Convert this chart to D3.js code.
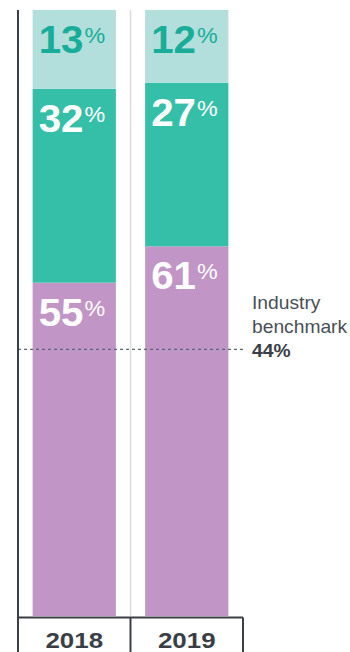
<!DOCTYPE html>
<html>
<head>
<meta charset="utf-8">
<script src="https://cdn.jsdelivr.net/npm/d3@7"></script>
<style>
  html, body { margin: 0; padding: 0; background: #fff; }
  svg { display: block; }
  text { font-family: "Liberation Sans", Arial, Helvetica, sans-serif; }
</style>
</head>
<body>
<svg id="chart" width="350" height="652"></svg>
<script>
// Share of responses per year, stacked bottom to top
const years = ["2018", "2019"];
const bottomShare = [55, 61];
const middleShare = [32, 27];
const topShare = [13, 12];
const benchmark = 44;
const benchmarkLabel = ["Industry", "benchmark"];

const seriesNames = ["bottom", "middle", "top"];
const seriesValues = [bottomShare, middleShare, topShare];
const fills = { bottom: "#c195c5", middle: "#36bfa8", top: "#b2dfdb" };
const labelFills = { bottom: "#ffffff", middle: "#ffffff", top: "#17ad99" };
const ink = "#3a3f47";

const rows = years.map((y, i) => {
  const r = { year: y };
  seriesNames.forEach((s, k) => r[s] = seriesValues[k][i]);
  return r;
});

const svg = d3.select("#chart");
const axisLeft = 18, axisRight = 243, plotTop = 10, plotBottom = 616;

const x = d3.scaleBand().domain(years).range([axisLeft, axisRight]).paddingInner(0).paddingOuter(0);
const y = d3.scaleLinear().domain([0, 100]).range([plotBottom, plotTop]);
const barW = x.bandwidth() * 0.74;

const stack = d3.stack().keys(seriesNames)(rows);

// light divider between the two columns
svg.append("line")
  .attr("x1", x("2019")).attr("x2", x("2019"))
  .attr("y1", plotTop).attr("y2", plotBottom)
  .attr("stroke", "#dcdcdc").attr("stroke-width", 1.5);

// stacked segments
const layers = svg.append("g").selectAll("g").data(stack).join("g")
  .attr("fill", d => fills[d.key]);

layers.selectAll("rect").data(d => d).join("rect")
  .attr("x", d => x(d.data.year) + (x.bandwidth() - barW) / 2)
  .attr("width", barW)
  .attr("y", d => y(d[1]))
  .attr("height", d => y(d[0]) - y(d[1]));

// value labels with raised percent sign
stack.forEach(layer => {
  layer.forEach(d => {
    const v = d[1] - d[0];
    const lx = x(d.data.year) + (x.bandwidth() - barW) / 2 + 6;
    const ly = y(d[1]) + 43;
    const t = svg.append("text")
      .attr("transform", `translate(${lx},${ly}) scale(1.06,1)`)
      .attr("fill", labelFills[layer.key])
      .attr("font-weight", "bold");
    t.append("tspan").attr("font-size", 38).text(v);
    t.append("tspan").attr("font-size", 22).attr("font-weight", "normal")
      .attr("dy", -10).attr("dx", 1).text("%");
  });
});

// benchmark line
svg.append("line")
  .attr("x1", axisLeft).attr("x2", axisRight)
  .attr("y1", y(benchmark)).attr("y2", y(benchmark))
  .attr("stroke", "#5a6775").attr("stroke-width", 1.3)
  .attr("stroke-dasharray", "3,3");

const bench = svg.append("g").attr("transform", `translate(252,0)`);
benchmarkLabel.forEach((s, i) => {
  bench.append("text")
    .attr("transform", `translate(0,${309 + i * 24}) scale(1.1,1)`)
    .attr("font-size", 17.5).attr("fill", "#4a4f57").text(s);
});
bench.append("text")
  .attr("transform", `translate(0,${309 + 2 * 24}) scale(1.1,1)`)
  .attr("font-size", 17.5).attr("font-weight", "bold").attr("fill", ink)
  .text(benchmark + "%");

// axes frame
svg.append("line")
  .attr("x1", axisLeft).attr("x2", axisLeft)
  .attr("y1", plotTop).attr("y2", 652)
  .attr("stroke", ink).attr("stroke-width", 2);
svg.append("line")
  .attr("x1", axisLeft).attr("x2", axisRight)
  .attr("y1", plotBottom + 1.5).attr("y2", plotBottom + 1.5)
  .attr("stroke", ink).attr("stroke-width", 2);

const xAxis = svg.append("g")
  .attr("transform", `translate(0,${plotBottom + 1.5})`)
  .call(d3.axisBottom(x).tickSize(0).tickPadding(0).tickFormat(""));
xAxis.select(".domain").remove();

[x("2019"), axisRight].forEach(px => {
  svg.append("line")
    .attr("x1", px).attr("x2", px)
    .attr("y1", plotBottom + 1.5).attr("y2", 652)
    .attr("stroke", ink).attr("stroke-width", 2);
});

years.forEach(yr => {
  svg.append("text")
    .attr("transform", `translate(${x(yr) + x.bandwidth() / 2},648) scale(1.15,1)`)
    .attr("text-anchor", "middle")
    .attr("font-size", 22.5).attr("font-weight", "bold").attr("fill", ink)
    .text(yr);
});
</script>
</body>
</html>
